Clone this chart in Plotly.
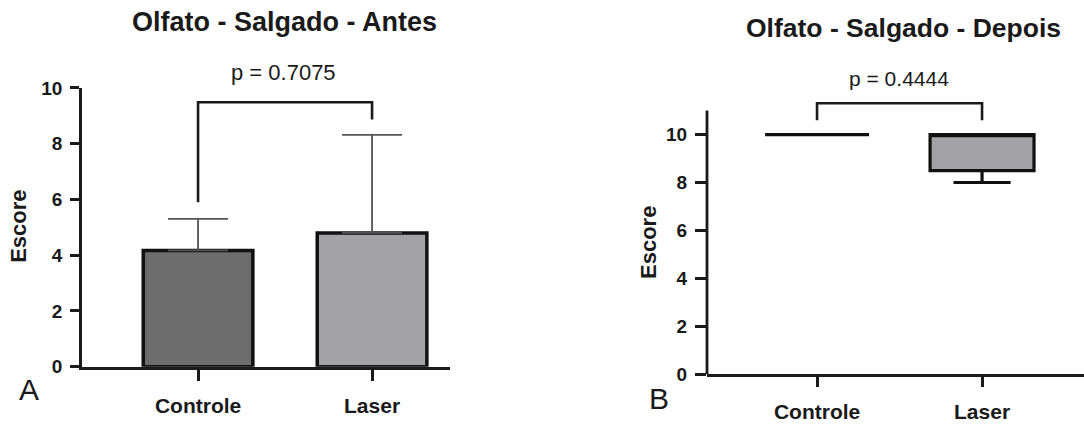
import plotly.graph_objects as go

# --- data -------------------------------------------------------------
categories = ["Controle", "Laser"]

# Panel A: mean score and SD (upper error bar only)
antes_mean = [4.17, 4.80]
antes_sd = [1.13, 3.52]
antes_p = "p = 0.7075"
antes_bracket_y = [5.9, 9.49, 9.49, 8.87]

# Panel B: box summary per group
depois_min = [10.0, 8.0]
depois_q1 = [10.0, 8.5]
depois_median = [10.0, 10.0]
depois_q3 = [10.0, 10.0]
depois_max = [10.0, 10.0]
depois_p = "p = 0.4444"
depois_bracket_y = [10.6, 11.31, 11.31, 10.6]

y_ticks = [0, 2, 4, 6, 8, 10]

# --- styling ----------------------------------------------------------
W, H = 1084, 429
FONT = "Liberation Sans, Arial, Helvetica, sans-serif"
INK = "#1a1a1a"
fills = ["#6d6d6d", "#a3a3a7"]


def px(x):
    return x / W


def py(y):
    return 1 - y / H


fig = go.Figure()

# Panel A bars with upward SD whiskers
for i, cat in enumerate(categories):
    fig.add_trace(go.Bar(
        x=[cat], y=[antes_mean[i]], width=0.63,
        marker=dict(color=fills[i], line=dict(color="#111111", width=3.5)),
        error_y=dict(type="data", symmetric=False, array=[antes_sd[i]],
                     arrayminus=[0], color="#555555", thickness=1.8, width=30),
        xaxis="x", yaxis="y", showlegend=False,
    ))

fig.add_trace(go.Scatter(
    x=[categories[0], categories[0], categories[1], categories[1]],
    y=antes_bracket_y, mode="lines",
    line=dict(color=INK, width=2.6), xaxis="x", yaxis="y", showlegend=False,
))

# Panel B boxes from summary statistics
for i, cat in enumerate(categories):
    fig.add_trace(go.Box(
        x=[cat], q1=[depois_q1[i]], median=[depois_median[i]], q3=[depois_q3[i]],
        lowerfence=[depois_min[i]], upperfence=[depois_max[i]],
        width=0.63, whiskerwidth=0.55,
        fillcolor=fills[1], line=dict(color="#111111", width=3.2),
        xaxis="x2", yaxis="y2", showlegend=False, boxpoints=False,
    ))

fig.add_trace(go.Scatter(
    x=[categories[0], categories[0], categories[1], categories[1]],
    y=depois_bracket_y, mode="lines",
    line=dict(color=INK, width=2.6), xaxis="x2", yaxis="y2", showlegend=False,
))

axis_common = dict(
    showgrid=False, zeroline=False, showline=True, linecolor=INK, linewidth=2.8,
    ticks="outside", tickcolor=INK, tickwidth=2.5,
)

fig.update_layout(
    width=W, height=H, autosize=False,
    margin=dict(l=0, r=0, t=0, b=0),
    paper_bgcolor="white", plot_bgcolor="white",
    font=dict(family=FONT, color=INK),
    boxmode="overlay",
    xaxis=dict(**axis_common, domain=[px(82), px(450)], anchor="y",
               type="category", range=[-0.667, 1.448], ticklen=11,
               ticklabelstandoff=7,
               tickfont=dict(size=21, weight="bold", family=FONT, color=INK)),
    yaxis=dict(**axis_common, domain=[py(375), py(82)], anchor="x",
               range=[0, 10], tickvals=y_ticks, ticklen=9,
               ticklabelstandoff=4,
               tickfont=dict(size=19, weight="bold", family=FONT, color=INK)),
    xaxis2=dict(**axis_common, domain=[px(707), 1.0], anchor="y2",
                type="category", range=[-0.667, 1.618], ticklen=10,
                ticklabelstandoff=7,
                tickfont=dict(size=21, weight="bold", family=FONT, color=INK)),
    yaxis2=dict(showgrid=False, zeroline=False, showline=False,
                ticks="outside", tickcolor=INK, tickwidth=2.5,
                domain=[py(383), py(93.2)], anchor="x2",
                range=[0, 11.5], tickvals=y_ticks, ticklen=11,
                ticklabelstandoff=4,
                tickfont=dict(size=19, weight="bold", family=FONT, color=INK)),
)

# left axis line of panel B stops at 11
fig.add_shape(type="line", xref="x2 domain", yref="y2",
              x0=0, x1=0, y0=0, y1=11, line=dict(color=INK, width=2.8))

ann = [
    dict(text="<b>Olfato - Salgado - Antes</b>", x=px(284), y=py(13), size=27),
    dict(text="<b>Olfato - Salgado - Depois</b>", x=px(903), y=py(19), size=26.5),
    dict(text=antes_p, x=px(283), y=py(66), size=22),
    dict(text=depois_p, x=px(899), y=py(72), size=21),
    dict(text="A", x=px(29), y=py(399), size=30),
    dict(text="B", x=px(659), y=py(408), size=30),
]
for a in ann:
    fig.add_annotation(text=a["text"], x=a["x"], y=a["y"], xref="paper", yref="paper",
                       xanchor="center", yanchor="middle", showarrow=False,
                       font=dict(size=a["size"], family=FONT, color=INK))

for x, y in [(19, 228), (648, 245)]:
    fig.add_annotation(text="<b>Escore</b>", x=px(x), y=py(y), xref="paper", yref="paper",
                       xanchor="center", yanchor="middle", showarrow=False, textangle=-90,
                       font=dict(size=22, family=FONT, color=INK))

fig.write_html("out.html")
